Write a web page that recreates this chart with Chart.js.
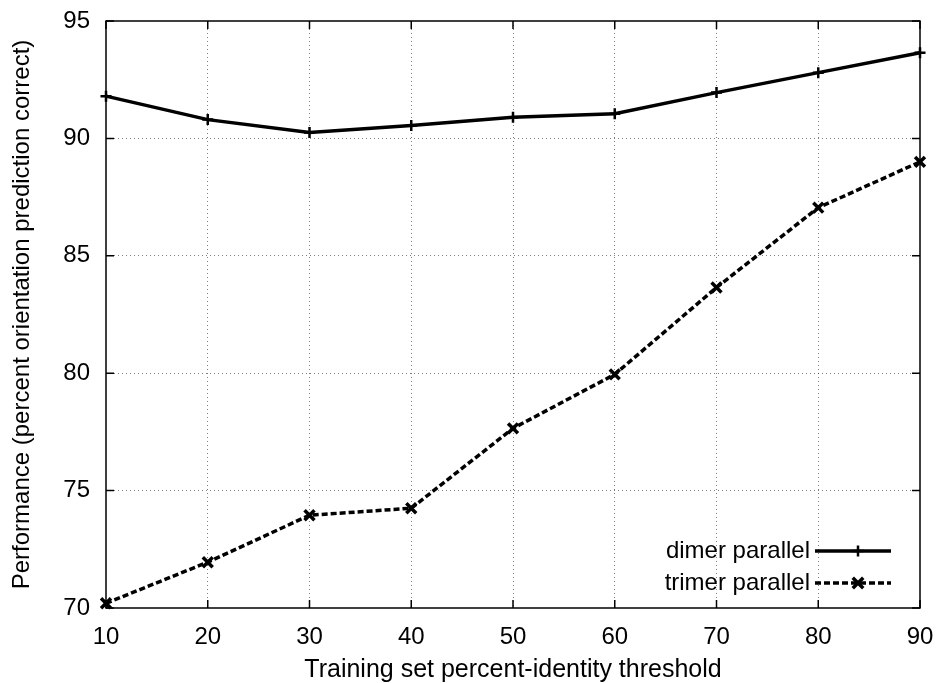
<!DOCTYPE html>
<html>
<head>
<meta charset="utf-8">
<script src="https://cdn.jsdelivr.net/npm/chart.js@4/dist/chart.umd.min.js"></script>
<style>
  html, body { margin: 0; padding: 0; background: #fff; }
  #wrap { width: 940px; height: 683px; }
</style>
</head>
<body>
<div id="wrap"><canvas id="c" width="940" height="683"></canvas></div>
<script>
// Training set percent-identity thresholds
const thresholds = [10, 20, 30, 40, 50, 60, 70, 80, 90];
// Percent orientation predicted correctly
const dimerParallel  = [91.8, 90.8, 90.25, 90.55, 90.9, 91.05, 91.95, 92.8, 93.65];
const trimerParallel = [70.2, 71.95, 73.95, 74.25, 77.65, 79.95, 83.65, 87.05, 89.0];
const seriesNames = ['dimer parallel', 'trimer parallel'];
const yTicks = [70, 75, 80, 85, 90, 95];

const FONT = '"Liberation Sans", Arial, Helvetica, sans-serif';

const toPoints = vals => thresholds.map((t, i) => ({ x: t, y: vals[i] }));

// Frame around the plot, inward tick marks on all four sides, and
// a legend in the lower-right corner (text first, line sample after).
const framePlugin = {
  id: 'frame',
  afterDatasetsDraw(chart) {
    const { ctx, chartArea: a, scales } = chart;
    const xs = scales.x, ys = scales.y;
    const tl = 8;
    ctx.save();
    ctx.strokeStyle = '#000';
    ctx.lineWidth = 1.5;
    ctx.setLineDash([]);
    ctx.strokeRect(a.left, a.top, a.right - a.left, a.bottom - a.top);
    ctx.beginPath();
    thresholds.forEach(t => {
      const px = xs.getPixelForValue(t);
      ctx.moveTo(px, a.bottom); ctx.lineTo(px, a.bottom - tl);
      ctx.moveTo(px, a.top); ctx.lineTo(px, a.top + tl);
    });
    yTicks.forEach(v => {
      const py = ys.getPixelForValue(v);
      ctx.moveTo(a.left, py); ctx.lineTo(a.left + tl, py);
      ctx.moveTo(a.right, py); ctx.lineTo(a.right - tl, py);
    });
    ctx.stroke();

    // legend
    ctx.font = '24px ' + FONT;
    ctx.fillStyle = '#000';
    ctx.textAlign = 'right';
    ctx.textBaseline = 'middle';
    const textRight = a.right - 110;
    const lineL = a.right - 105, lineR = a.right - 29;
    const rows = [a.bottom - 57, a.bottom - 25];
    chart.data.datasets.forEach((ds, i) => {
      const y = rows[i];
      ctx.fillText(ds.label, textRight, y);
      ctx.lineWidth = ds.borderWidth;
      ctx.setLineDash(ds.borderDash || []);
      ctx.beginPath();
      ctx.moveTo(lineL, y); ctx.lineTo(lineR, y);
      ctx.stroke();
      ctx.setLineDash([]);
      const mx = (lineL + lineR) / 2 + 5, r = ds.pointRadius;
      ctx.lineWidth = ds.pointBorderWidth;
      ctx.beginPath();
      if (ds.pointStyle === 'cross') {
        ctx.moveTo(mx - r, y); ctx.lineTo(mx + r, y);
        ctx.moveTo(mx, y - r); ctx.lineTo(mx, y + r);
      } else {
        const d = r * 0.75;
        ctx.moveTo(mx - d, y - d); ctx.lineTo(mx + d, y + d);
        ctx.moveTo(mx - d, y + d); ctx.lineTo(mx + d, y - d);
      }
      ctx.stroke();
    });
    ctx.restore();
  }
};

const gridColor = hidden => ctx =>
  (ctx.tick && hidden.includes(ctx.tick.value)) ? 'rgba(0,0,0,0)' : 'rgba(0,0,0,0.5)';

new Chart(document.getElementById('c'), {
  type: 'line',
  data: {
    datasets: [
      {
        label: seriesNames[0],
        data: toPoints(dimerParallel),
        borderColor: '#000',
        backgroundColor: '#000',
        borderWidth: 3.5,
        pointStyle: 'cross',
        pointRadius: 5.5,
        pointBorderWidth: 2.5,
        pointBorderColor: '#000',
        tension: 0,
        clip: false
      },
      {
        label: seriesNames[1],
        data: toPoints(trimerParallel),
        borderColor: '#000',
        backgroundColor: '#000',
        borderWidth: 3.5,
        borderDash: [6, 3],
        pointStyle: 'crossRot',
        pointRadius: 7,
        pointBorderWidth: 3.5,
        pointBorderColor: '#000',
        tension: 0,
        clip: false
      }
    ]
  },
  options: {
    responsive: false,
    animation: false,
    events: [],
    layout: { padding: { top: 21, right: 20, left: 0, bottom: 0 } },
    plugins: { legend: { display: false }, tooltip: { enabled: false } },
    scales: {
      x: {
        type: 'linear',
        min: 10, max: 90,
        afterBuildTicks: s => { s.ticks = thresholds.map(v => ({ value: v })); },
        afterFit: s => { s.height = 75; s.paddingLeft = 0; s.paddingRight = 0; },
        border: { display: false, dash: [1, 3] },
        grid: { drawTicks: false, color: gridColor([10, 90]), lineWidth: 1 },
        ticks: { color: '#000', padding: 15, maxRotation: 0, font: { family: FONT, size: 24 } },
        title: {
          display: true,
          text: 'Training set percent-identity threshold',
          color: '#000',
          padding: { top: 0, bottom: 0 },
          font: { family: FONT, size: 25, lineHeight: 1 }
        }
      },
      y: {
        type: 'linear',
        min: 70, max: 95,
        afterBuildTicks: s => { s.ticks = yTicks.map(v => ({ value: v })); },
        afterFit: s => { s.width = 106; s.paddingTop = 0; s.paddingBottom = 0; },
        border: { display: false, dash: [1, 3] },
        grid: { drawTicks: false, color: gridColor([70, 95]), lineWidth: 1 },
        ticks: { color: '#000', padding: 16, font: { family: FONT, size: 24 } },
        title: {
          display: true,
          text: 'Performance (percent orientation prediction correct)',
          color: '#000',
          padding: { top: 10, bottom: 0 },
          font: { family: FONT, size: 24, lineHeight: 1 }
        }
      }
    }
  },
  plugins: [framePlugin]
});
</script>
</body>
</html>
